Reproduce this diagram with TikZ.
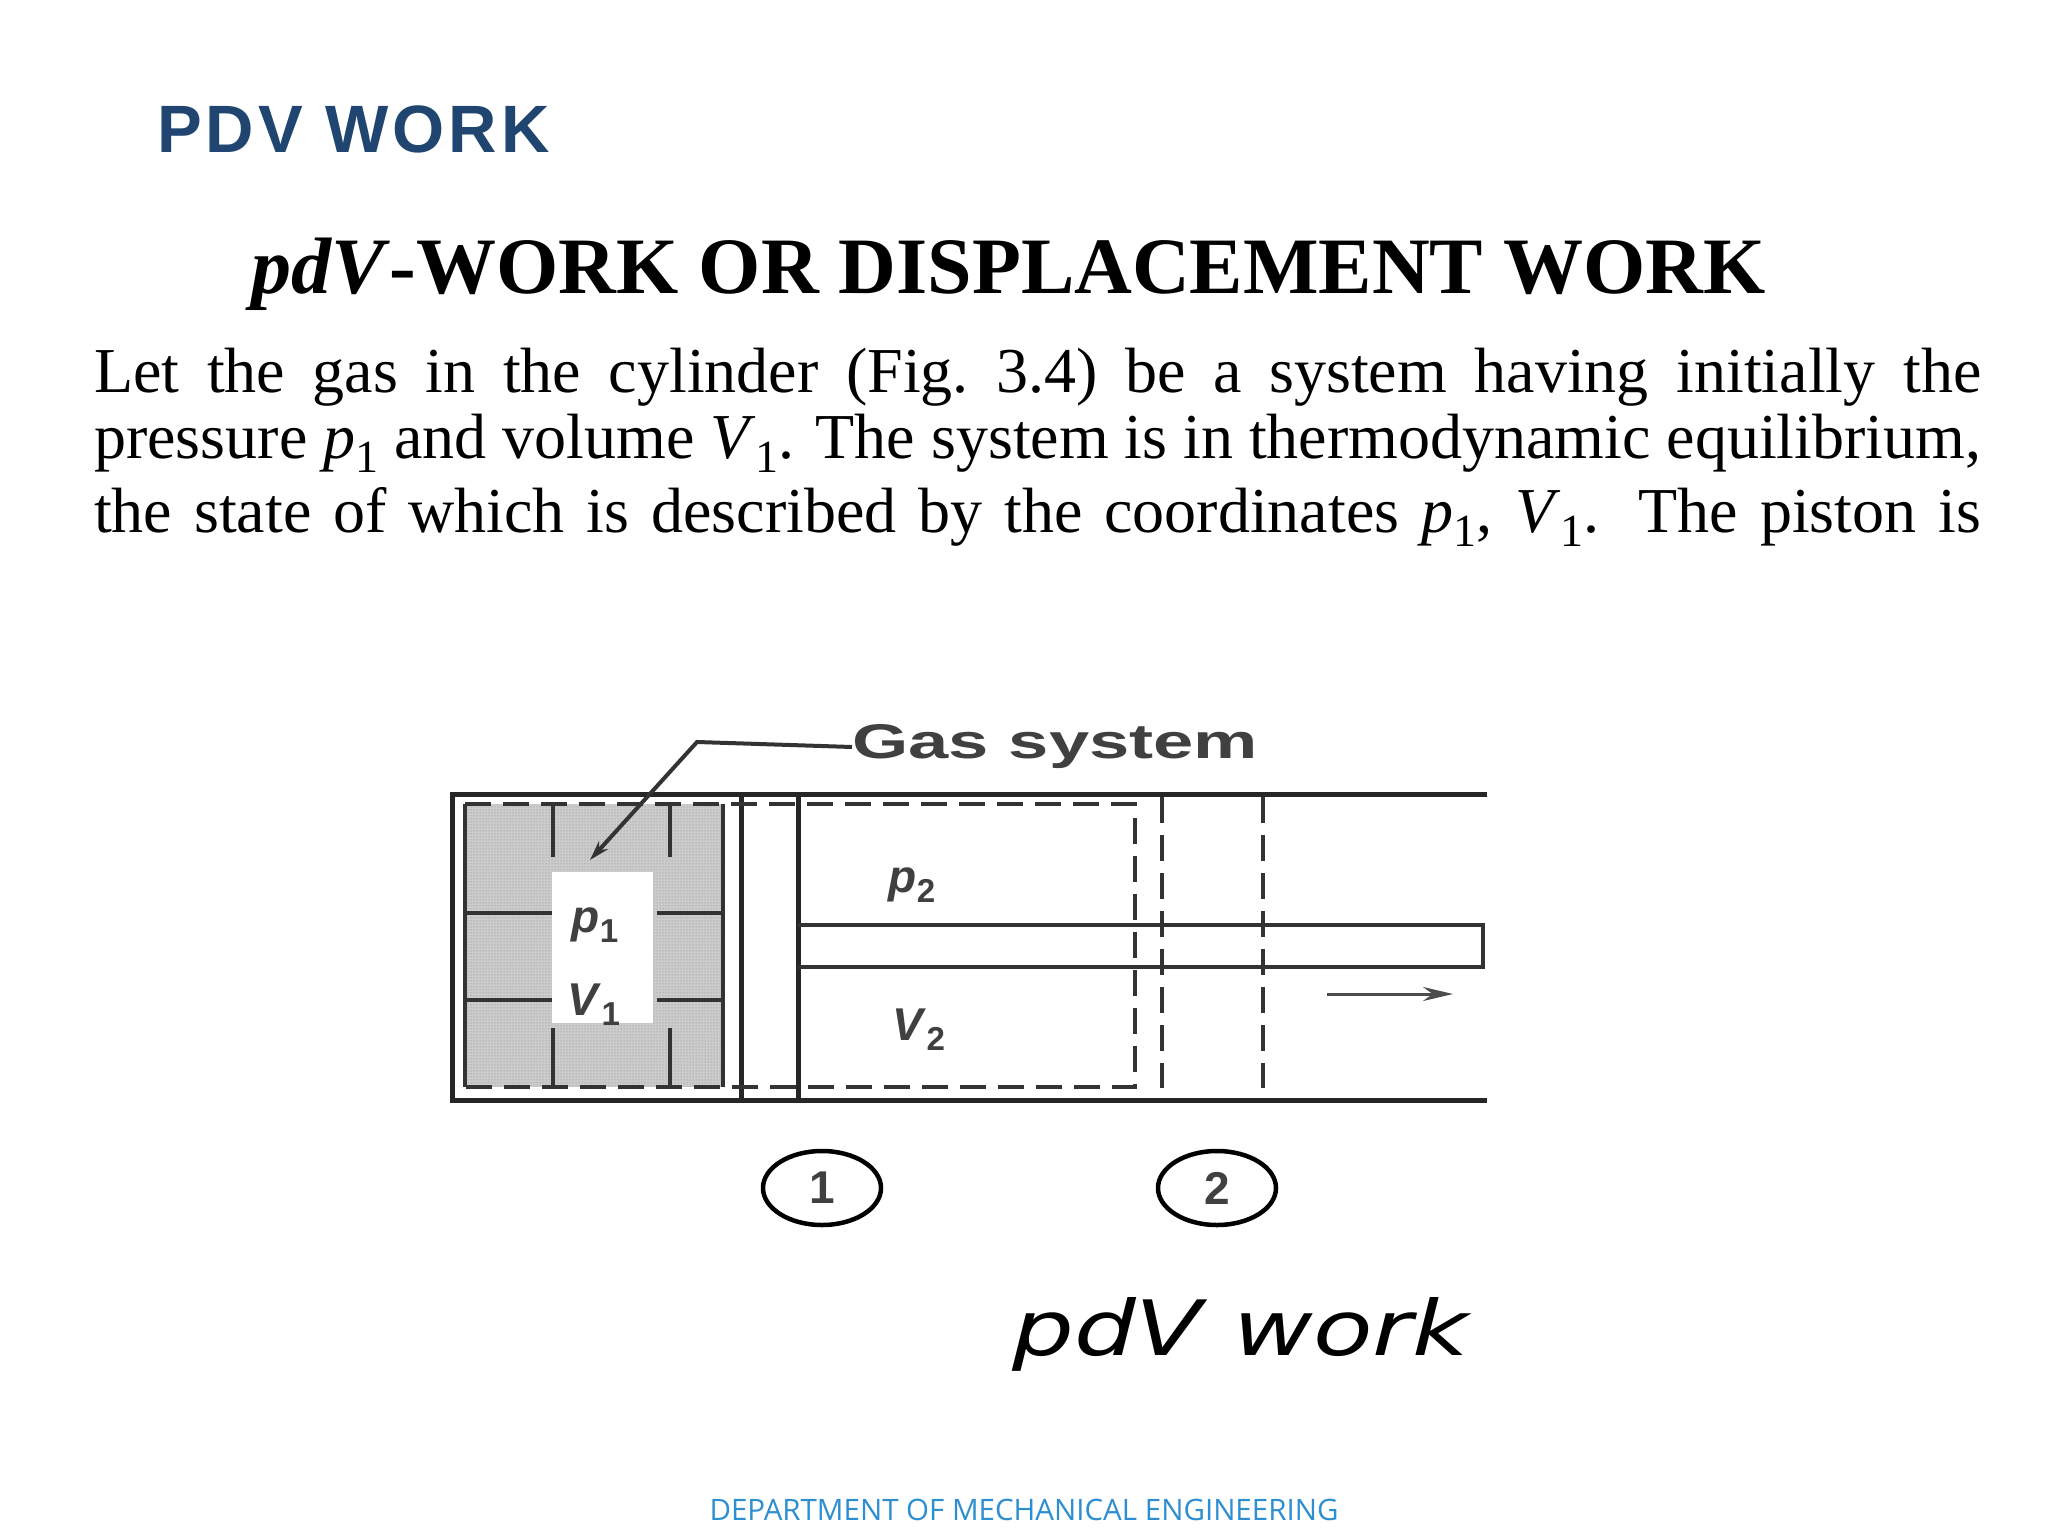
\documentclass[tikz,border=0pt]{standalone}
\usepackage{fontspec}
\setmainfont{Liberation Serif}
\newfontfamily\lsans{Liberation Sans}
\newfontfamily\dsans{DejaVu Sans}
\newfontfamily\osans{Open Sans}
\usetikzlibrary{patterns,arrows.meta,shapes.geometric}
\definecolor{titleblue}{HTML}{1F4570}
\definecolor{footblue}{HTML}{2E8FD0}
\newcommand{\vr}[2]{\textit{#1}\raisebox{-0.22em}{\scalebox{0.72}{#2}}}
\begin{document}
\begin{tikzpicture}[x=1pt,y=-1pt,
  wall/.style={line width=5pt,black!85},
  thin/.style={line width=4pt,black!80},
  bdash/.style={line width=4.5pt,black!80,dash pattern=on 26pt off 12pt},
  lbl/.style={font=\lsans\bfseries\fontsize{46}{46}\selectfont,text=black!75,inner sep=0pt},
  para/.style={anchor=base west,inner sep=0pt,font=\fontsize{64}{64}\selectfont}]
\useasboundingbox (0,0) rectangle (2048,1536);
\fill[white] (0,0) rectangle (2048,1536);
% texts
\node[anchor=base west,inner sep=0pt,text=titleblue,font=\lsans\bfseries\fontsize{67}{67}\selectfont] (title) at (157,153) {\addfontfeature{LetterSpace=6}PDV WORK};
\node[anchor=base west,inner sep=0pt,font=\bfseries\fontsize{80}{80}\selectfont] (head) at (251,293) {\textit{pdV}-WORK OR DISPLACEMENT WORK};
\node[para] (l1) at (94,392) {\makebox[1887pt][s]{Let the gas in the cylinder (Fig.\ 3.4) be a system having initially the}};
\node[para] (l2) at (94,458) {\makebox[1887pt][s]{pressure \vr{p}{1} and volume \vr{V}{1}. The system is in thermodynamic equilibrium,}};
\node[para] (l3) at (94,532) {\makebox[1887pt][s]{the state of which is described by the coordinates \vr{p}{1}, \vr{V}{1}. The piston is}};
% shaded gas
\fill[gray!40] (465,804) rectangle (723,1087);
\fill[pattern=dots,pattern color=black!50] (465,804) rectangle (723,1087);
\fill[white] (552,872) rectangle (653,1023);
\draw[thin] (465,804) -- (465,1087) (723,804) -- (723,1087);
\foreach \x in {553,670}{\draw[thin] (\x,804) -- (\x,857) (\x,1028) -- (\x,1087);}
\foreach \y in {913,1000}{\draw[thin] (465,\y) -- (552,\y) (657,\y) -- (723,\y);}
% cylinder
\draw[wall] (1487,794) -- (452,794) -- (452,1100) -- (1487,1100);
\draw[wall] (741,794) -- (741,1100);
\draw[wall] (798,794) -- (798,1100);
\draw[thin] (798,925) -- (1483,925) -- (1483,967) -- (798,967);
% boundaries
\draw[bdash] (465,804) -- (1135,804) -- (1135,1087) -- (465,1087);
\draw[bdash] (1162,797) -- (1162,1088);
\draw[bdash] (1263,797) -- (1263,1088);
% labels
\node[lbl] (p1) at (595,925) {\vr{p}{1}};
\node[lbl] (v1) at (594,1005) {\vr{V}{1}};
\node[lbl] (p2) at (912,885) {\vr{p}{2}};
\node[lbl] (v2) at (919,1030) {\vr{V}{2}};
\node[lbl,anchor=west] (gas) at (852,747) {\resizebox{406pt}{34pt}{Gas system}};
\coordinate (bend) at (697,742);
\coordinate (tip) at (590,860);
\draw[thin,-{Stealth[length=20pt,width=12pt]}] (gas.west) -- (bend) -- (tip);
\draw[line width=3pt,black!70,-{Stealth[length=30pt,width=14pt]}] (1327,994) -- (1453,994);
\node[draw,line width=4.5pt,ellipse,minimum width=118pt,minimum height=74pt,lbl] (c1) at (822,1188) {1};
\node[draw,line width=4.5pt,ellipse,minimum width=118pt,minimum height=74pt,lbl] (c2) at (1217,1188) {2};
\node[inner sep=0pt,anchor=base west] (cap) at (1012,1355) {\resizebox{457pt}{58pt}{\dsans\itshape\fontsize{60}{60}\selectfont pdV work}};
\node[inner sep=0pt,anchor=base,text=footblue,font=\osans\fontsize{29.5}{29.5}\selectfont] (foot) at (1024,1520) {DEPARTMENT OF MECHANICAL ENGINEERING};
\end{tikzpicture}
\end{document}
